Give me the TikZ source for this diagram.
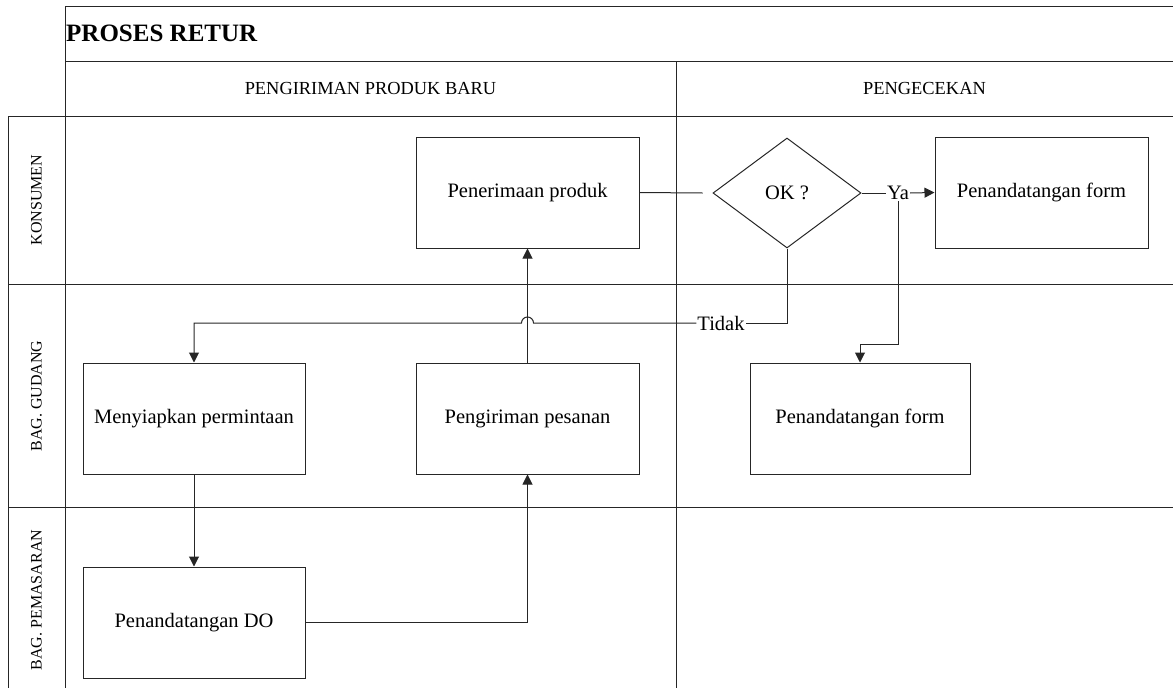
\documentclass[tikz,border=0pt]{standalone}
\usepackage{fontspec}
\setmainfont{Liberation Serif}
\usetikzlibrary{shapes.geometric,arrows.meta,calc}

\tikzset{
  lane/.style={draw=black!85, line width=1pt},
  proc/.style={draw=black!85, line width=1pt, minimum width=222pt, minimum height=111pt,
    inner sep=0pt, font=\fontsize{20.5}{24}\selectfont},
  decide/.style={draw=black!85, line width=1pt, diamond, aspect=1.35, minimum width=148pt,
    minimum height=110pt, inner sep=0pt, font=\fontsize{20.5}{24}\selectfont},
  lbl/.style={inner sep=1pt, font=\fontsize{20.5}{24}\selectfont},
  flow/.style={draw=black!85, line width=1pt},
  arr/.style={flow, -{Triangle[length=10pt,width=10pt]}},
  lanetitle/.style={rotate=90, font=\fontsize{16}{19}\selectfont},
  coltitle/.style={font=\fontsize{18.4}{22}\selectfont},
}

\begin{document}
\begin{tikzpicture}[x=1pt,y=-1pt]
\useasboundingbox (0,0) rectangle (1173,688);

% pool frame and swimlanes
\draw[lane] (65,6) -- (1173,6);
\draw[lane] (65,61) -- (1173,61);
\draw[lane] (8,116) -- (1173,116);
\draw[lane] (8,284) -- (1173,284);
\draw[lane] (8,507) -- (1173,507);
\draw[lane] (65,6) -- (65,688);
\draw[lane] (8,116) -- (8,688);
\draw[lane] (676,61) -- (676,688);

% titles
\node[anchor=west, inner sep=0pt, font=\fontsize{25}{30}\selectfont\bfseries] (title) at (66,33) {PROSES RETUR};
\node[coltitle] (col1) at (370.5,88) {PENGIRIMAN PRODUK BARU};
\node[coltitle] (col2) at (924.5,88) {PENGECEKAN};
\node[lanetitle] (lane1) at (36.5,200) {KONSUMEN};
\node[lanetitle] (lane2) at (36.5,396) {BAG. GUDANG};
\node[lanetitle] (lane3) at (36.5,600) {BAG. PEMASARAN};

% process steps
\node[proc, minimum width=223pt] (pen) at (527.5,192.5) {Penerimaan produk};
\node[decide] (ok) at (787,193) {OK ?};
\node[proc, minimum width=213pt] (formK) at (1041.5,192.5) {Penandatangan form};
\node[proc] (siap) at (194,418.5) {Menyiapkan permintaan};
\node[proc, minimum width=223pt] (kirim) at (527.5,418.5) {Pengiriman pesanan};
\node[proc, minimum width=220pt] (formG) at (860,418.5) {Penandatangan form};
\node[proc] (do) at (194,622.5) {Penandatangan DO};

% branch labels
\node[lbl] (ya) at (898,193) {Ya};
\node[lbl] (tidak) at (721,323) {Tidak};

% connectors
\draw[flow] (pen.east) -- ([xshift=-10pt]ok.west);
\draw[flow] (ok.east) -- (ya.west);
\draw[arr] (ya.east) -- (formK.west);
\draw[arr] (ya.south) |- ($(formG.north)+(0,-18)$) -- (formG.north);
\draw[flow] (ok.south) |- (tidak.east);
\draw[arr] (tidak.west) -- ($(kirim.north |- tidak.west)+(6pt,0)$)
  arc[start angle=0, end angle=180, radius=6pt]
  -- (siap.north |- tidak.west) -- (siap.north);
\draw[arr] (kirim.north) -- (pen.south);
\draw[arr] (siap.south) -- (do.north);
\draw[arr] (do.east) -| (kirim.south);
\end{tikzpicture}
\end{document}
